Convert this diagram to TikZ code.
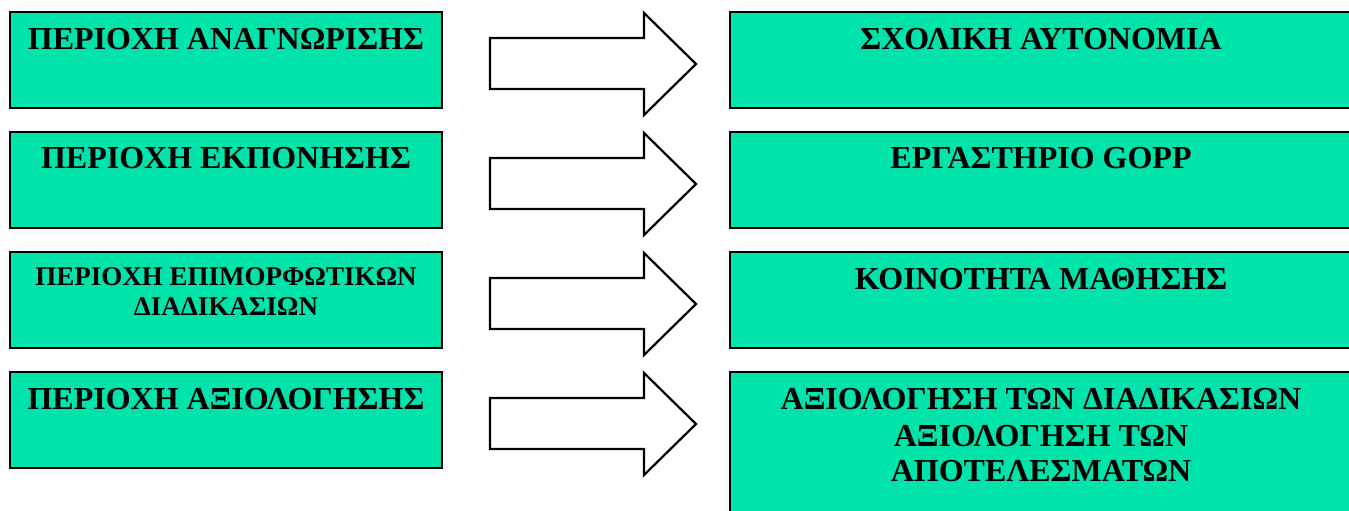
\documentclass[tikz,border=0pt]{standalone}
\usepackage{fontspec}
\setmainfont{Liberation Serif}
\definecolor{boxfill}{HTML}{00E3AB}
\begin{document}
\begin{tikzpicture}[x=1pt,y=-1pt,
  box/.style={draw=black, line width=2.2pt, fill=boxfill, inner sep=0pt, outer sep=0pt, anchor=north west, rectangle},
  lbl/.style={anchor=base, font=\bfseries\fontsize{32}{36}\selectfont, inner sep=0pt},
  lblsmall/.style={anchor=base, font=\bfseries\fontsize{27}{30}\selectfont, inner sep=0pt},
  blockarrow/.style={draw=black, line width=2.2pt, fill=white, line join=miter}]
\useasboundingbox (0,0) rectangle (1349,511);
\clip (0,0) rectangle (1349,511);
% left boxes
\foreach \i/\t in {1/12,2/132,3/252,4/372}{
  \node[box, minimum width=432pt, minimum height=96pt] (L\i) at (10,\t) {};
}
% right boxes
\foreach \i/\t in {1/12,2/132,3/252}{
  \node[box, minimum width=622pt, minimum height=96pt] (R\i) at (730,\t) {};
}
\node[box, minimum width=622pt, minimum height=150pt] (R4) at (730,372) {};
% arrows
\foreach \i/\d in {1/0,2/120,3/240,4/360}{
  \draw[blockarrow] (490,38+\d) -- (644,38+\d) -- (644,13+\d) -- (696,64+\d)
    -- (644,115+\d) -- (644,89+\d) -- (490,89+\d) -- cycle;
}
% left texts
\node[lbl] (tL1) at (226,50) {ΠΕΡΙΟΧΗ ΑΝΑΓΝΩΡΙΣΗΣ};
\node[lbl] (tL2) at (226,168) {ΠΕΡΙΟΧΗ ΕΚΠΟΝΗΣΗΣ};
\node[lblsmall] (tL3a) at (226,285) {ΠΕΡΙΟΧΗ ΕΠΙΜΟΡΦΩΤΙΚΩΝ};
\node[lblsmall] (tL3b) at (226,315) {ΔΙΑΔΙΚΑΣΙΩΝ};
\node[lbl] (tL4) at (226,409) {ΠΕΡΙΟΧΗ ΑΞΙΟΛΟΓΗΣΗΣ};
% right texts
\node[lbl] (tR1) at (1041,50) {ΣΧΟΛΙΚΗ ΑΥΤΟΝΟΜΙΑ};
\node[lbl] (tR2) at (1041,168) {ΕΡΓΑΣΤΗΡΙΟ GOPP};
\node[lbl] (tR3) at (1041,289) {ΚΟΙΝΟΤΗΤΑ ΜΑΘΗΣΗΣ};
\node[lbl] (tR4a) at (1041,409) {ΑΞΙΟΛΟΓΗΣΗ ΤΩΝ ΔΙΑΔΙΚΑΣΙΩΝ};
\node[lbl] (tR4b) at (1041,446) {ΑΞΙΟΛΟΓΗΣΗ ΤΩΝ};
\node[lbl] (tR4c) at (1041,481) {ΑΠΟΤΕΛΕΣΜΑΤΩΝ};
\end{tikzpicture}
\end{document}
